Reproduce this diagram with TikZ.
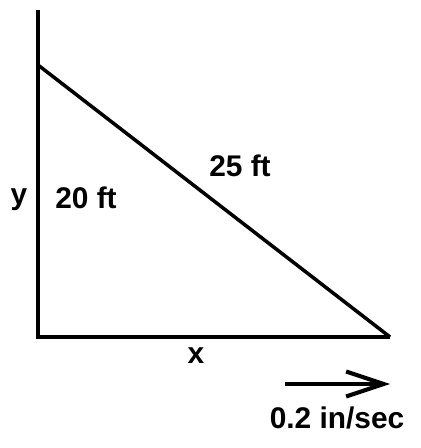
\documentclass[tikz,border=0pt]{standalone}
\usepackage{fontspec}
\setmainfont{Liberation Sans}
\usetikzlibrary{arrows.meta}
\tikzset{
  wall/.style  = {line width=2.3pt},
  ladder/.style = {line width=2pt},
  lbl/.style   = {inner sep=0, font=\fontsize{17}{20}\selectfont\bfseries},
}

\begin{document}
\begin{tikzpicture}[x=0.02cm, y=-0.02cm]
  \useasboundingbox (0,0) rectangle (421,448);

  \coordinate (WallTop) at (38,10);
  \coordinate (Corner) at (38,337);
  \coordinate (Foot) at (390,337);
  \coordinate (LadTop) at (38,65);

  \draw[wall] (WallTop) -- (Corner) -- (Foot);
  \draw[ladder] (LadTop) -- (Foot);

  \node[lbl, anchor=base] at (19,205) (Y) {y};
  \node[lbl, anchor=base] at (86,209) (H) {20 ft};
  \node[lbl, anchor=base] at (240,177) (L) {25 ft};
  \node[lbl, anchor=base] at (196,363) (X) {x};

  % velocity of the foot
  \coordinate (ArrS) at (285,384);
  \coordinate (ArrE) at (390,384);
  \draw[wall, -{Straight Barb[length=0.75cm, width=0.5cm]}] (ArrS) -- (ArrE);
  \node[lbl, anchor=base] at (337,428) (V) {0.2 in/sec};
\end{tikzpicture}
\end{document}
